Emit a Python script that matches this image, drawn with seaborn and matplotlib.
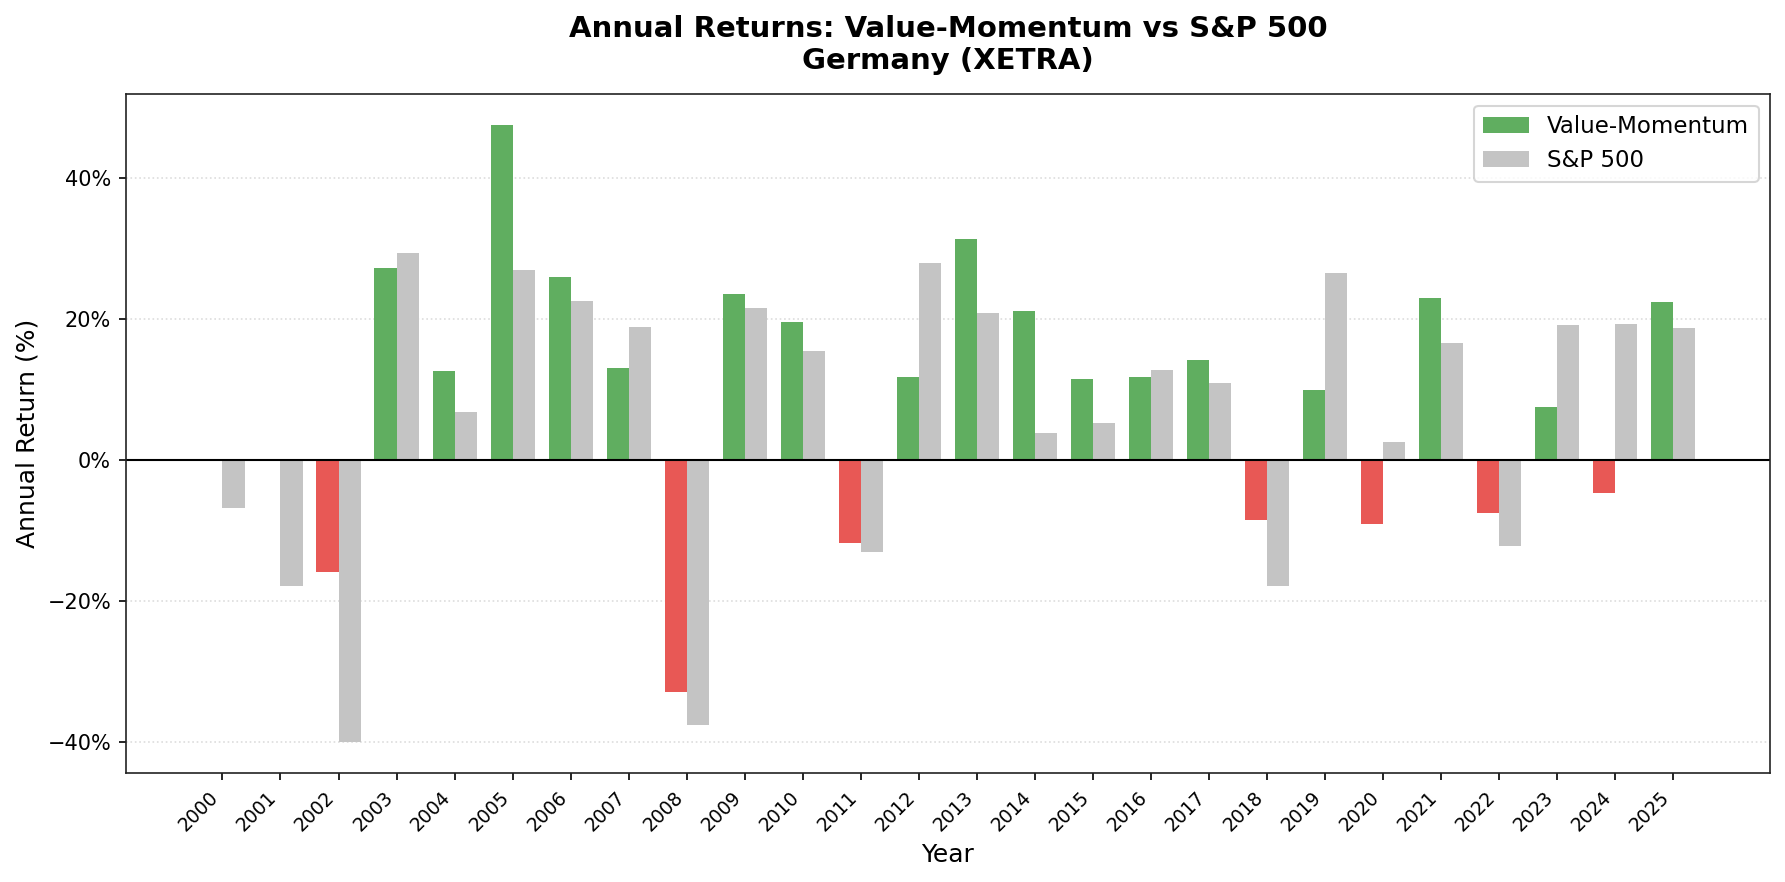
import numpy as np
import pandas as pd
import matplotlib
matplotlib.use('Agg')
import matplotlib.pyplot as plt
from matplotlib.ticker import PercentFormatter
import seaborn as sns

years = [str(y) for y in range(2000, 2026)]
# annual returns in %, NaN where the strategy has no return
vm_returns = [np.nan, np.nan, -15.8, 27.3, 12.6, 47.5, 26.0, 13.1, -32.9, 23.6,
              19.6, -11.8, 11.8, 31.3, 21.2, 11.5, 11.8, 14.2, -8.5, 9.9,
              -9.0, 23.0, -7.5, 7.6, -4.7, 22.4]
sp_returns = [-6.8, -17.9, -40.0, 29.4, 6.8, 27.0, 22.6, 18.9, -37.6, 21.6,
              15.5, -13.1, 28.0, 20.9, 3.8, 5.2, 12.8, 10.9, -17.8, 26.6,
              2.5, 16.6, -12.2, 19.2, 19.3, 18.7]
series_names = ['Value-Momentum', 'S&P 500']

green = '#60ae60'
red = '#e85855'
gray = '#c4c4c4'

df = pd.DataFrame({
    'Year': years * 2,
    'Return': vm_returns + sp_returns,
    'Series': [series_names[0]] * len(years) + [series_names[1]] * len(years),
})

sns.set_style('ticks')
plt.rcParams.update({
    'axes.edgecolor': '#222222',
    'text.color': 'black',
    'axes.labelcolor': 'black',
    'xtick.color': 'black',
    'ytick.color': 'black',
})

fig, ax = plt.subplots(figsize=(12, 5.98), dpi=150)
sns.barplot(data=df, x='Year', y='Return', hue='Series', hue_order=series_names,
            palette={series_names[0]: green, series_names[1]: gray},
            width=0.76, saturation=1, linewidth=0, edgecolor='none', ax=ax)

# losing years of the strategy in red
for bar in ax.containers[0]:
    if bar.get_height() < 0:
        bar.set_facecolor(red)

ax.axhline(0, color='black', linewidth=1)
ax.yaxis.grid(True, linestyle=':', color='#dddddd', linewidth=0.8)
ax.set_axisbelow(True)

n = len(years)
pad = 0.05 * (n - 1 + 0.76)
ax.set_xlim(-0.38 - pad, n - 1 + 0.38 + pad)

ax.yaxis.set_major_formatter(PercentFormatter(decimals=0))
ax.tick_params(axis='y', labelsize=10)
ax.tick_params(axis='x', labelsize=9)
plt.setp(ax.get_xticklabels(), rotation=45, ha='right')

ax.set_title('Annual Returns: Value-Momentum vs S&P 500\nGermany (XETRA)',
             fontsize=14, fontweight='bold', pad=12)
ax.set_xlabel('Year', fontsize=12)
ax.set_ylabel('Annual Return (%)', fontsize=12)
ax.legend(loc='upper right', fontsize=11, title=None)

plt.tight_layout()
plt.savefig('out.png', dpi=150, bbox_inches='tight')
